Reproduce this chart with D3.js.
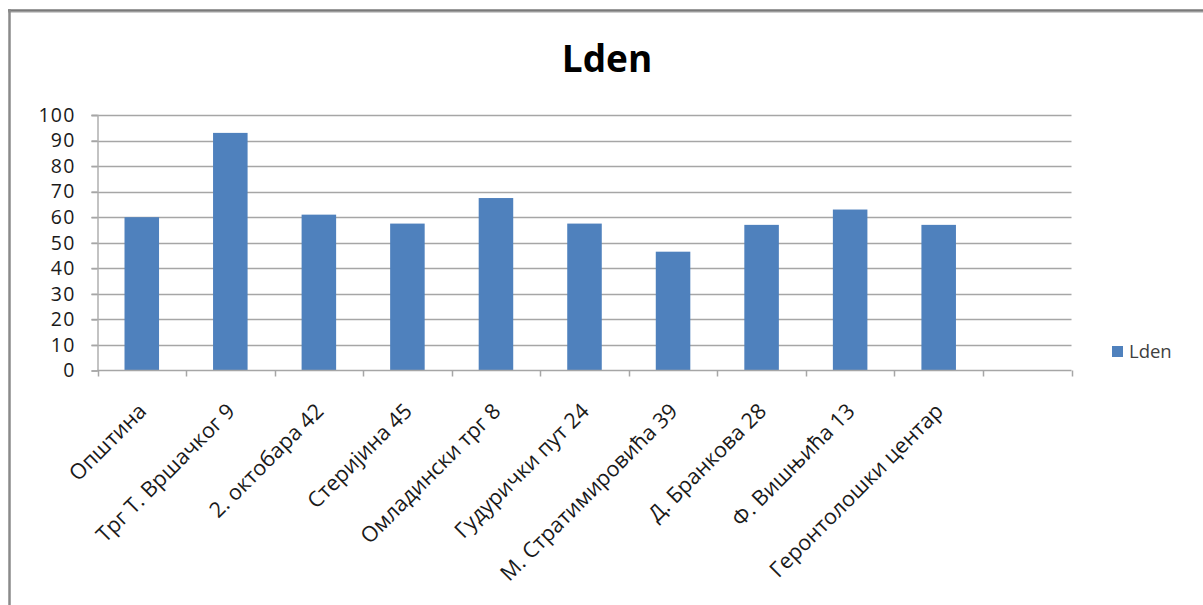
<!DOCTYPE html>
<html>
<head>
<meta charset="utf-8">
<script src="https://cdn.jsdelivr.net/npm/d3@7"></script>
<style>
  html, body { margin: 0; padding: 0; background: #fff; }
  svg { display: block; }
  text { font-family: "Open Sans", "Noto Sans", sans-serif; }
</style>
</head>
<body>
<svg id="chart" width="1203" height="605"></svg>
<script>
const categories = ["Општина", "Трг Т. Вршачког 9", "2. октобара 42", "Стеријина 45",
  "Омладински трг 8", "Гудурички пут 24", "М. Стратимировића 39", "Д. Бранкова 28",
  "Ф. Вишњића 13", "Геронтолошки центар", ""];
const ldenValues = [60, 93, 61, 57.5, 67.5, 57.5, 46.5, 57, 63, 57, null];
const yTicks = [0, 10, 20, 30, 40, 50, 60, 70, 80, 90, 100];
const seriesName = "Lden";
const chartTitle = "Lden";

const svg = d3.select("#chart");
const W = 1203, H = 605;

// frame
svg.append("line").attr("x1", 8).attr("x2", W).attr("y1", 10.5).attr("y2", 10.5)
  .attr("stroke", "#7a7a7a").attr("stroke-width", 2.5);
svg.append("line").attr("x1", 8).attr("x2", W).attr("y1", 12.5).attr("y2", 12.5)
  .attr("stroke", "#cfcfcf").attr("stroke-width", 1);
svg.append("line").attr("x1", 9.5).attr("x2", 9.5).attr("y1", 9).attr("y2", H)
  .attr("stroke", "#8a8a8a").attr("stroke-width", 2.5);

const plot = { left: 97.5, right: 1071.5, top: 115, bottom: 370.5 };

const x = d3.scaleBand().domain(categories.map((c, i) => i))
  .range([plot.left, plot.right]).paddingInner(0.61).paddingOuter(0.305);
const xEdges = d3.scaleLinear().domain([0, categories.length]).range([plot.left, plot.right]);
const y = d3.scaleLinear().domain([0, 100]).range([plot.bottom, plot.top]);

// gridlines
svg.append("g").selectAll("line").data(yTicks.filter(d => d > 0)).join("line")
  .attr("x1", plot.left - 6).attr("x2", plot.right)
  .attr("y1", d => Math.round(y(d)) + 0.5).attr("y2", d => Math.round(y(d)) + 0.5)
  .attr("stroke", "#a6a6a6").attr("stroke-width", 1.5);

// y axis
const yAxis = d3.axisLeft(y).tickValues(yTicks).tickSize(6).tickPadding(16);
const gy = svg.append("g").attr("transform", `translate(${plot.left},0)`).call(yAxis);
gy.select(".domain").attr("stroke", "#b0b0b0").attr("stroke-width", 1.5);
gy.selectAll(".tick line").attr("stroke", "#a6a6a6").attr("stroke-width", 1.5);
gy.selectAll(".tick text").attr("font-size", 19.5).attr("fill", "#1a1a1a")
  .attr("letter-spacing", 1.2)
  .attr("font-family", "'Liberation Sans', Arial, sans-serif");

// bars
svg.append("g").selectAll("rect").data(ldenValues.map((v, i) => ({ v, i })).filter(d => d.v != null))
  .join("rect")
  .attr("x", d => x(d.i)).attr("width", x.bandwidth())
  .attr("y", d => y(d.v)).attr("height", d => y(0) - y(d.v))
  .attr("fill", "#4f81bd");

// x axis line and ticks
svg.append("line").attr("x1", plot.left).attr("x2", plot.right)
  .attr("y1", plot.bottom).attr("y2", plot.bottom)
  .attr("stroke", "#a6a6a6").attr("stroke-width", 1.5);
svg.append("g").selectAll("line").data(d3.range(categories.length + 1)).join("line")
  .attr("x1", d => Math.round(xEdges(d)) + 0.5).attr("x2", d => Math.round(xEdges(d)) + 0.5)
  .attr("y1", plot.bottom).attr("y2", plot.bottom + 6)
  .attr("stroke", "#a6a6a6").attr("stroke-width", 1.5);

// x labels
svg.append("g").selectAll("text").data(categories.map((c, i) => ({ c, i })).filter(d => d.c))
  .join("text")
  .attr("transform", d => `translate(${x(d.i) + x.bandwidth() / 2 + 6},${plot.bottom + 42}) rotate(-45)`)
  .attr("text-anchor", "end")
  .attr("font-size", 21.5).attr("fill", "#1a1a1a")
  .text(d => d.c);

// title
svg.append("text").attr("x", 607).attr("y", 72).attr("text-anchor", "middle")
  .attr("font-size", 37).attr("font-weight", "bold").attr("fill", "#000")
  .text(chartTitle);

// legend
const lg = svg.append("g");
lg.append("rect").attr("x", 1112).attr("y", 346).attr("width", 11).attr("height", 11).attr("fill", "#4f81bd");
lg.append("text").attr("x", 1129).attr("y", 357.5).attr("font-size", 18.5).attr("fill", "#404040").text(seriesName);
</script>
</body>
</html>
